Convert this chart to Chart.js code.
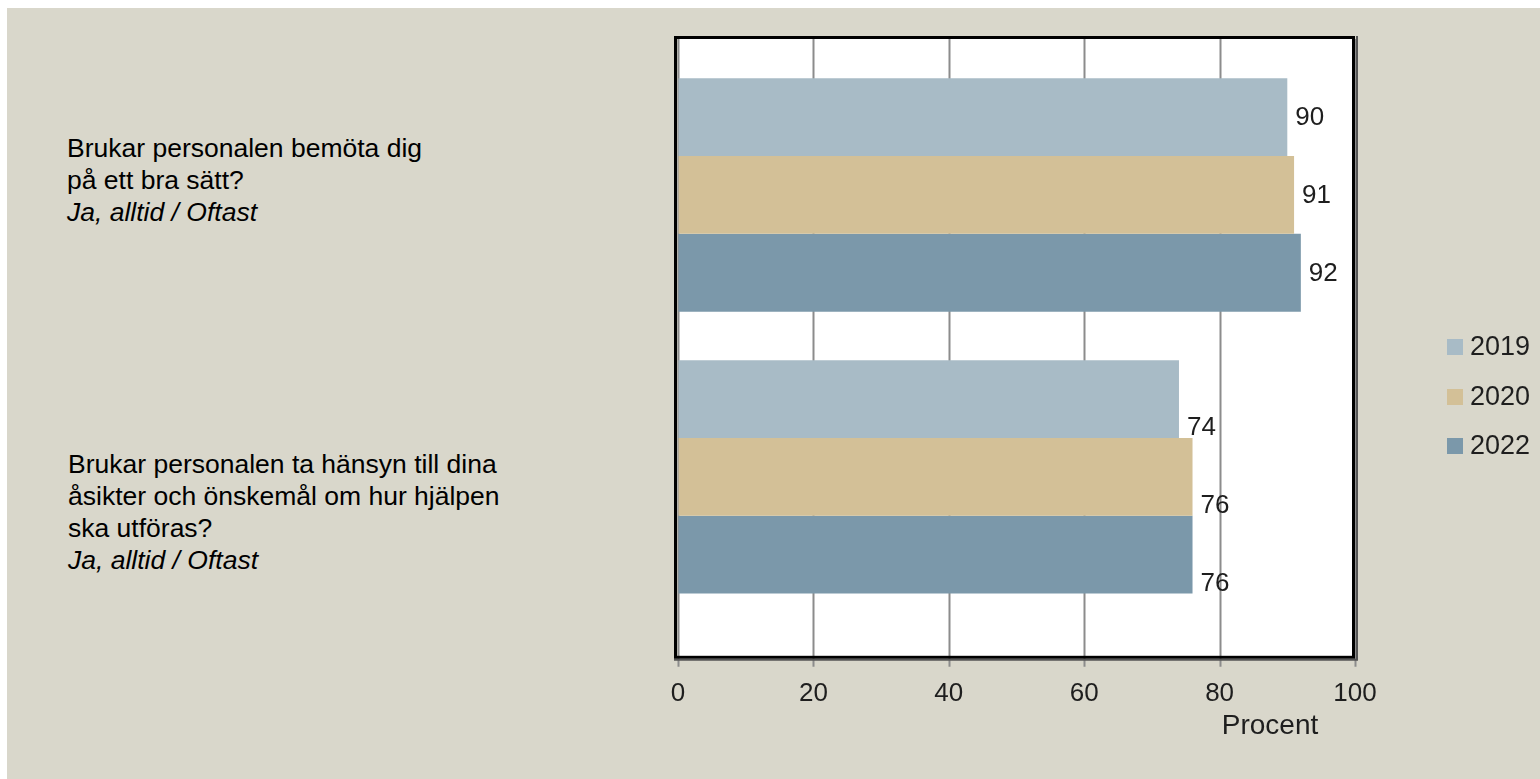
<!DOCTYPE html>
<html>
<head>
<meta charset="utf-8">
<script src="https://cdn.jsdelivr.net/npm/chart.js@4.4.0/dist/chart.umd.min.js"></script>
<style>
  html, body { margin: 0; padding: 0; background: #ffffff; overflow: hidden; }
  #bg { position: absolute; left: 7px; top: 8px; width: 1533px; height: 771px; background: #d9d7cb; }
  #chart { position: absolute; left: 0; top: 0; }
  .q { position: absolute; font-family: "Liberation Sans", Arial, sans-serif; font-size: 26.5px; line-height: 32px; color: #000; white-space: nowrap; }
  .q i { font-style: italic; }
</style>
</head>
<body>
<div id="bg"></div>
<div class="q" id="q0" style="left:67px; top:132px;"></div>
<div class="q" id="q1" style="left:68px; top:448px;"></div>
<canvas id="chart" width="1540" height="779"></canvas>
<script>
/* DATA */
const categories = ["Brukar personalen bemöta dig på ett bra sätt?", "Brukar personalen ta hänsyn till dina åsikter och önskemål om hur hjälpen ska utföras?"];
const questionLines = [
  ["Brukar personalen bemöta dig", "på ett bra sätt?"],
  ["Brukar personalen ta hänsyn till dina", "åsikter och önskemål om hur hjälpen", "ska utföras?"]
];
const answerLine = "Ja, alltid / Oftast";
const years = ["2019", "2020", "2022"];
const values2019 = [90, 74];
const values2020 = [91, 76];
const values2022 = [92, 76];
const xTicks = [0, 20, 40, 60, 80, 100];
const xTitle = "Procent";

const colors = ["#a8bbc6", "#d3c097", "#7b98aa"];
const FONT = '"Liberation Sans", Arial, sans-serif';
// white plot box reaches a bit past the bar area, like the original
const PLOT_EXTRA_TOP = 15, PLOT_EXTRA_BOTTOM = 41;
// the original puts the second group's value labels lower in the bar
const LABEL_SHIFT = [1, 29];

/* QUESTION TEXT */
questionLines.forEach(function (lines, i) {
  var el = document.getElementById("q" + i);
  el.innerHTML = lines.join("<br>") + "<br><i>" + answerLine + "</i>";
});

/* PLOT BACKGROUND, GRID, LABELS, FRAME, LEGEND, AXIS TITLE */
const decorPlugin = {
  id: "decor",
  beforeDraw: function (chart) {
    var a = chart.chartArea, ctx = chart.ctx;
    var top = a.top - PLOT_EXTRA_TOP, bottom = a.bottom + PLOT_EXTRA_BOTTOM;
    ctx.save();
    ctx.fillStyle = "#ffffff";
    ctx.fillRect(a.left, top, a.right - a.left, bottom - top);
    // vertical grid lines + tick marks below the box
    var xs = chart.scales.x;
    ctx.strokeStyle = "#8c8c8c";
    ctx.lineWidth = 2;
    xTicks.forEach(function (v) {
      var px = Math.round(xs.getPixelForValue(v)) + 0.5;
      ctx.beginPath();
      ctx.moveTo(px, top);
      ctx.lineTo(px, bottom + 8);
      ctx.stroke();
    });
    ctx.restore();
  },
  afterDatasetsDraw: function (chart) {
    var a = chart.chartArea, ctx = chart.ctx;
    var top = a.top - PLOT_EXTRA_TOP, bottom = a.bottom + PLOT_EXTRA_BOTTOM;
    ctx.save();
    // value labels
    ctx.font = "26px " + FONT;
    ctx.fillStyle = "#1e1e1e";
    ctx.textAlign = "left";
    ctx.textBaseline = "middle";
    chart.data.datasets.forEach(function (ds, di) {
      chart.getDatasetMeta(di).data.forEach(function (bar, i) {
        ctx.fillText(String(ds.data[i]), bar.x + 8, bar.y + LABEL_SHIFT[i]);
      });
    });
    // frame
    ctx.strokeStyle = "#000000";
    ctx.lineWidth = 3;
    ctx.strokeRect(a.left - 2.5, top - 1.5, a.right - a.left + 1, bottom - top);
    ctx.strokeStyle = "#555555";
    ctx.lineWidth = 2;
    ctx.beginPath();
    ctx.moveTo(a.right + 2, top - 3);
    ctx.lineTo(a.right + 2, bottom + 1);
    ctx.lineTo(a.left - 4, bottom + 1);
    ctx.stroke();
    // legend
    ctx.font = "27px " + FONT;
    ctx.textAlign = "left";
    ctx.textBaseline = "middle";
    var ly = [347, 397, 446];
    chart.data.datasets.forEach(function (ds, di) {
      ctx.fillStyle = ds.backgroundColor;
      ctx.fillRect(1447, ly[di] - 8, 16, 16);
      ctx.fillStyle = "#1e1e1e";
      ctx.fillText(ds.label, 1470, ly[di] + 1);
    });
    // axis title
    ctx.font = "28px " + FONT;
    ctx.textAlign = "center";
    ctx.fillText(xTitle, 1270, 726);
    ctx.restore();
  }
};

new Chart(document.getElementById("chart"), {
  type: "bar",
  data: {
    labels: categories,
    datasets: [
      { label: years[0], data: values2019, backgroundColor: colors[0] },
      { label: years[1], data: values2020, backgroundColor: colors[1] },
      { label: years[2], data: values2022, backgroundColor: colors[2] }
    ]
  },
  options: {
    indexAxis: "y",
    responsive: false,
    animation: false,
    devicePixelRatio: 1,
    layout: { padding: { left: 678, right: 185, top: 54, bottom: 10 } },
    datasets: { bar: { categoryPercentage: 0.828, barPercentage: 1.0, borderWidth: 0 } },
    plugins: { legend: { display: false }, tooltip: { enabled: false } },
    scales: {
      x: {
        min: 0,
        max: 100,
        afterBuildTicks: function (scale) {
          scale.ticks = xTicks.map(function (v) { return { value: v }; });
        },
        grid: { display: true, drawOnChartArea: false, drawTicks: false },
        border: { display: false },
        ticks: { padding: 60, color: "#1e1e1e", font: { family: FONT, size: 26 }, maxRotation: 0 }
      },
      y: { display: false }
    }
  },
  plugins: [decorPlugin]
});
</script>
</body>
</html>
